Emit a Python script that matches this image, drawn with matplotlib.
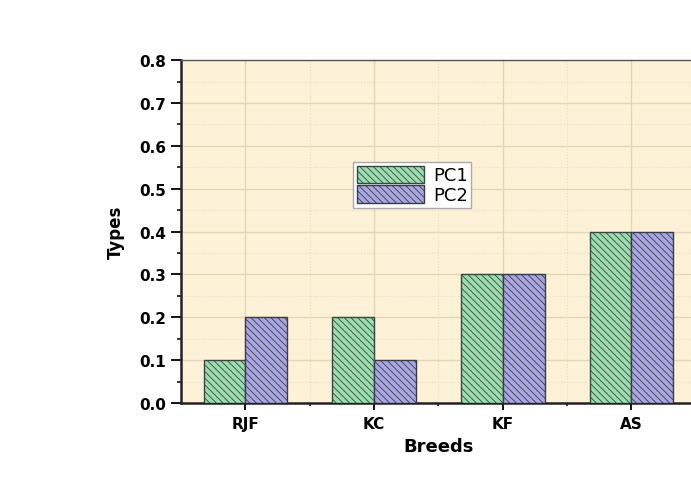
import matplotlib.pyplot as plt
import numpy as np

breeds = ["RJF", "KC", "KF", "AS"]
pc1 = [0.1, 0.2, 0.3, 0.4]
pc2 = [0.2, 0.1, 0.3, 0.4]

plt.rcParams['font.family'] = ['DejaVu Sans']
plt.rcParams['hatch.linewidth'] = 0.6

fig = plt.figure(figsize=(6.91, 4.81), dpi=100)
ax = fig.add_axes([0.262, 0.160, 0.745, 0.713])
ax.set_facecolor('#fdf2d7')

x = np.arange(len(breeds))
w = 0.325
ax.bar(x - w / 2, pc1, w, color='#9ddcb1', edgecolor='#354a3c', linewidth=1.0,
       hatch='\\' * 5, label='PC1', zorder=3)
ax.bar(x + w / 2, pc2, w, color='#aaa7e0', edgecolor='#3a3a4c', linewidth=1.0,
       hatch='\\' * 5, label='PC2', zorder=3)

ax.set_xlim(-0.5, 3.5)
ax.set_ylim(0, 0.8)
ax.set_xticks(x)
ax.set_xticklabels(breeds, fontweight='bold', fontsize=11)
ax.set_xticks(x[:-1] + 0.5, minor=True)
ax.set_yticks(np.arange(0, 0.81, 0.1))
ax.set_yticks(np.arange(0.05, 0.8, 0.1), minor=True)
ax.set_yticklabels([f"{v:.1f}" for v in np.arange(0, 0.81, 0.1)], fontweight='bold', fontsize=11)

ax.grid(which='major', color='#e3d6b8', linewidth=1.0, zorder=0)
ax.grid(which='minor', color='#e8dcc2', linewidth=0.8, linestyle=':', zorder=0)
ax.set_axisbelow(True)

ax.tick_params(axis='y', which='major', direction='out', length=7, width=1.3, pad=4)
ax.tick_params(axis='y', which='minor', direction='out', length=3, width=1.1)
ax.tick_params(axis='x', which='major', direction='out', length=5, width=1.3, pad=4)
ax.tick_params(axis='x', which='minor', direction='out', length=2, width=1.1)

for s in ['left', 'bottom']:
    ax.spines[s].set_linewidth(1.8)
    ax.spines[s].set_color('#222222')
ax.spines['top'].set_linewidth(1.0)
ax.spines['top'].set_color('#555555')
ax.spines['right'].set_visible(False)

ax.set_xlabel("Breeds", fontweight='bold', fontsize=13, labelpad=5)
ax.set_ylabel("Types", fontweight='bold', fontsize=12, labelpad=10)

ax.legend(loc='upper left', bbox_to_anchor=(0.335, 0.703), fontsize=13,
          frameon=True, fancybox=False, edgecolor='#aaaaaa', framealpha=1,
          handlelength=3.7, handleheight=1.1, borderpad=0.2, labelspacing=0.05,
          handletextpad=0.5, borderaxespad=0)

fig.savefig("out.png", dpi=100)
